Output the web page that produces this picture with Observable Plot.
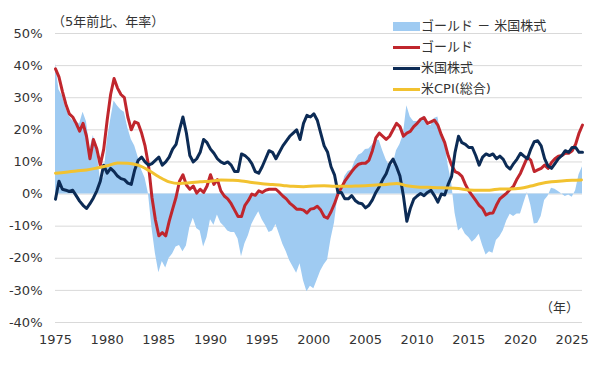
<!DOCTYPE html>
<html><head><meta charset="utf-8">
<script src="https://cdn.jsdelivr.net/npm/d3@7"></script>
<script src="https://cdn.jsdelivr.net/npm/@observablehq/plot@0.6"></script>
<style>
body{margin:0;background:#fff;}
#wrap{position:relative;width:600px;height:375px;font-family:"DejaVu Sans","Noto Sans CJK JP",sans-serif;color:#333;}
.ann{position:absolute;font-size:13px;white-space:nowrap;line-height:16px;}
.row{position:absolute;left:393px;height:16px;font-size:13px;line-height:16px;white-space:nowrap;display:flex;align-items:center;}
.sw{display:inline-block;width:27px;margin-right:1px;}
</style></head><body><div id="wrap"></div>
<script>
// 5-year annualized returns, sampled every 4 months from Jan 1975
const startYear = 1975, stepYear = 1/3;
const gold = [39,36.5,32,28,25,24,22,19.6,22,18,
11,17,14,9,14,23,31,36,33,31,
30,24,20,22.5,22,19,15,9,-1,-8,
-13,-12,-13,-8.5,-4.7,-1,4,6,2.8,1.5,
2.5,0.3,1.5,0.5,2.5,6,3,4.5,1,-0.6,
-1.5,-3,-5,-7,-7,-3.5,-2,0,-0.4,1,
0.5,1.2,1.5,1.5,1.5,0.5,-0.6,-1.5,-2.8,-3.7,
-4.7,-4.7,-5,-5.9,-4.7,-4.5,-3.8,-5,-7,-7.5,
-5.5,-3,0,2,4,5.5,7,8.3,9.3,9.6,
9.6,10.5,13.5,17.5,19,18,17,18,20,22,
21,18,19,19.5,21,22,23.3,23.8,22,22.5,
23,21.5,18.5,16,12,9,7,6.5,5.5,3,
1,-0.5,-2,-3.5,-4.5,-6.5,-6,-5.9,-3.5,-1.5,
-0.6,0.3,1.5,2.5,4.7,6.5,9,11.5,10.5,7,
7.5,8,9,8,9.8,11,11.8,12,12.7,12.7,
13.5,15.5,19,21.5];
const stocks = [-1.6,4,1.5,1.2,0.8,1.2,-0.5,-2.2,-3.5,-4.5,
-3,-1.2,1,4,9,6.5,8,7,5.6,4.8,
4.5,3.4,3,7.5,10.5,11.5,10,9,9.5,10.5,
11.5,9,10,11.5,14,15.5,20,24,19,12,
10,11,13,17,16,14,12.7,11,10,9.5,
10,9,7,7,12.5,12,11,9.5,7,6.5,
8.5,11,13.5,13,11,13,15,16.5,18,19,
20,17,22,24.5,24,25,23,19,15,13,
8.5,6,0.5,0.5,-1.5,-1.5,-0.5,-2,-2.8,-3,
-4.3,-3.5,-1.8,0.5,2.3,4.5,6.3,9.3,10.9,8.5,
5.6,-0.5,-8.5,-4.5,-1.6,-0.6,0.2,-0.5,0.5,1.2,
-0.5,-2.5,0,-0.3,3,5.5,13,18,16,15.5,
14.5,14.5,12,9,11.5,12.5,12,12.5,11,11.8,
10.8,8.7,7.8,9.5,10.9,12.7,11.8,11,14,16.3,
16.6,15,11,8.7,8,9.5,11,12,13.5,13,
14.5,14.5,13,13];
const cpiYears = [1975,1976,1977,1978,1979,1980,1981,1982,1983,1984,1985,1986,1987,1988,1989,1990,1991,1992,1993,1994,1995,1996,1997,1998,1999,2000,2001,2002,2003,2004,2005,2006,2007,2008,2009,2010,2011,2012,2013,2014,2015,2016,2017,2018,2019,2020,2021,2022,2023,2024,2025,2025.9];
const cpi = [6.5,6.8,7.2,7.5,8.1,8.8,9.7,9.6,9.0,7.4,5.4,3.8,3.3,3.5,3.8,4.0,4.4,4.3,4.1,3.6,3.2,3.0,2.7,2.4,2.3,2.5,2.6,2.4,2.4,2.5,2.6,2.8,3.0,3.3,2.6,2.2,2.1,2.0,1.9,1.7,1.3,1.2,1.2,1.6,1.6,1.8,2.5,3.3,3.8,4.1,4.3,4.4];
const xTicks = [1975,1980,1985,1990,1995,2000,2005,2010,2015,2020,2025];
const yTicks = [-40,-30,-20,-10,0,10,20,30,40,50];
const labels = {unit:"（5年前比、年率）", year:"（年）", diff:"ゴールド － 米国株式", gold:"ゴールド", stocks:"米国株式", cpi:"米CPI(総合)"};
const colors = {diff:"#9fcbf2", gold:"#c0262d", stocks:"#0c2b55", cpi:"#f2c230"};

const table = gold.map((g,i)=>({t:startYear+i*stepYear, gold:g, stocks:stocks[i], diff:g-stocks[i]}));
const cpiTable = cpi.map((v,i)=>({t:cpiYears[i], cpi:v}));

const chart = Plot.plot({
  width:600, height:375,
  marginLeft:55, marginRight:18, marginTop:33, marginBottom:53,
  style:{fontSize:"13px", fontFamily:'"DejaVu Sans","Noto Sans CJK JP",sans-serif', color:"#333", background:"#fff"},
  x:{domain:[1975,2026], ticks:xTicks, tickFormat:d=>String(d), tickSize:0, tickPadding:12, label:null},
  y:{domain:[-40,50], ticks:yTicks, tickFormat:d=>d+"%", tickSize:0, tickPadding:13, label:null},
  marks:[
    Plot.gridY(yTicks,{stroke:"#d9d9d9", strokeOpacity:1}),
    Plot.areaY(table,{x:"t", y:"diff", fill:colors.diff}),
    Plot.lineY(table,{x:"t", y:"gold", stroke:colors.gold, strokeWidth:3}),
    Plot.lineY(table,{x:"t", y:"stocks", stroke:colors.stocks, strokeWidth:3}),
    Plot.lineY(cpiTable,{x:"t", y:"cpi", stroke:colors.cpi, strokeWidth:3, curve:"monotone-x"})
  ]
});
const wrap = document.getElementById("wrap");
wrap.appendChild(chart);

function ann(text, left, top){
  const d=document.createElement("div"); d.className="ann"; d.textContent=text;
  d.style.left=left+"px"; d.style.top=top+"px"; wrap.appendChild(d);
}
ann(labels.unit, 52, 14);
ann(labels.year, 540, 300);

const legend = [
  {key:"diff", top:18, area:true},
  {key:"gold", top:39},
  {key:"stocks", top:60},
  {key:"cpi", top:81}
];
legend.forEach(l=>{
  const r=document.createElement("div"); r.className="row"; r.style.top=l.top+"px";
  const s=document.createElement("span"); s.className="sw";
  s.style.height=(l.area?9:3)+"px"; s.style.background=colors[l.key];
  r.appendChild(s);
  const t=document.createElement("span"); t.textContent=labels[l.key]; r.appendChild(t);
  wrap.appendChild(r);
});
</script></body></html>
